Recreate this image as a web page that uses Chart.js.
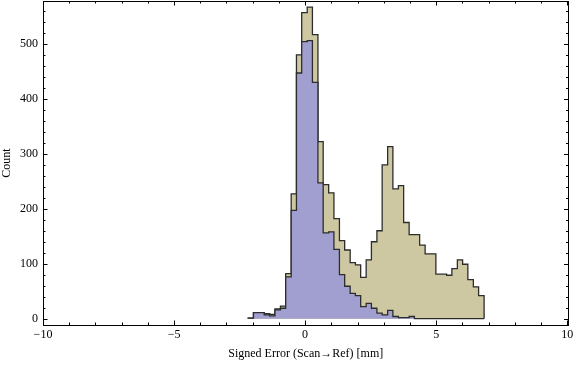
<!DOCTYPE html>
<html>
<head>
<meta charset="utf-8">
<script src="https://cdn.jsdelivr.net/npm/chart.js@4/dist/chart.umd.min.js"></script>
<style>
  html, body { margin: 0; padding: 0; background: #fff; }
  #chart { display: block; }
</style>
</head>
<body>
<canvas id="chart" width="576" height="366"></canvas>
<script>
// Bin edges of the histogram (mm)
const binEdges = [-2.17, -1.97, -1.76, -1.56, -1.35, -1.15, -0.94, -0.74, -0.53, -0.33,
                  -0.13, 0.08, 0.28, 0.49, 0.69, 0.90, 1.10, 1.31, 1.51, 1.72,
                  1.92, 2.12, 2.33, 2.53, 2.74, 2.94, 3.15, 3.35, 3.56, 3.76,
                  3.97, 4.17, 4.37, 4.58, 4.78, 4.99, 5.19, 5.40, 5.60, 5.81,
                  6.01, 6.21, 6.42, 6.62, 6.83];

// Counts per bin, front (blue) series
const countsA = [1, 11, 11, 7, 5, 16, 19, 76, 197, 447,
                 504, 506, 430, 247, 156, 158, 126, 80, 59, 46,
                 42, 22, 28, 19, 10, 7, 15, 4, 2, 2,
                 4, 0, 0, 0, 0, 0, 0, 0, 0, 0,
                 0, 0, 0, 0];

// Counts per bin, back (khaki) series
const countsB = [1, 11, 11, 9, 8, 18, 23, 82, 227, 480,
                 557, 567, 517, 322, 244, 229, 182, 142, 125, 102,
                 98, 75, 107, 140, 160, 280, 313, 236, 242, 175,
                 153, 153, 134, 118, 118, 81, 81, 79, 91, 107,
                 99, 71, 58, 42];

const xTickValues = [-10, -5, 0, 5, 10];
const xMinorValues = [-9, -8, -7, -6, -4, -3, -2, -1, 1, 2, 3, 4, 6, 7, 8, 9];
const yTickValues = [0, 100, 200, 300, 400, 500];
const yMinorValues = [20, 40, 60, 80, 120, 140, 160, 180, 220, 240, 260, 280,
                      320, 340, 360, 380, 420, 440, 460, 480, 520, 540, 560];

const FONT = "'Liberation Serif', 'Times New Roman', 'DejaVu Serif', serif";

// step outline: start at baseline, one point per left edge, close at the last edge
function stepPoints(counts) {
    const pts = [{ x: binEdges[0], y: 0 }];
    counts.forEach((c, i) => pts.push({ x: binEdges[i], y: c }));
    pts.push({ x: binEdges[counts.length], y: 0 });
    return pts;
}

// Mathematica-like frame with inward ticks on all four sides
const framePlugin = {
    id: 'frameTicks',
    afterDraw(chart) {
        const { ctx, chartArea: a, scales: { x, y } } = chart;
        ctx.save();
        ctx.strokeStyle = '#000';
        ctx.lineWidth = 1;
        ctx.strokeRect(Math.round(a.left) + 0.5, Math.round(a.top) + 0.5,
                       Math.round(a.right - a.left) - 1, Math.round(a.bottom - a.top));
        const vTick = (v, len) => {
            const px = Math.round(x.getPixelForValue(v)) + 0.5;
            ctx.moveTo(px, a.bottom); ctx.lineTo(px, a.bottom - len);
            ctx.moveTo(px, a.top); ctx.lineTo(px, a.top + len);
        };
        const hTick = (v, len) => {
            const py = Math.round(y.getPixelForValue(v)) + 0.5;
            ctx.moveTo(a.left, py); ctx.lineTo(a.left + len, py);
            ctx.moveTo(a.right, py); ctx.lineTo(a.right - len, py);
        };
        ctx.beginPath();
        xTickValues.forEach(v => vTick(v, 4.5));
        xMinorValues.forEach(v => vTick(v, 2.5));
        yTickValues.forEach(v => hTick(v, 4.5));
        yMinorValues.forEach(v => hTick(v, 2.5));
        ctx.stroke();
        ctx.restore();
    }
};

const fmt = v => (v < 0 ? '\u2212' + Math.abs(v) : String(v));

new Chart(document.getElementById('chart').getContext('2d'), {
    type: 'line',
    data: {
        datasets: [
            {
                data: stepPoints(countsA),
                stepped: true,
                fill: 'origin',
                backgroundColor: 'rgb(161, 159, 207)',
                borderColor: 'rgb(45, 45, 45)',
                borderWidth: 1.3,
                pointRadius: 0,
                tension: 0
            },
            {
                data: stepPoints(countsB),
                stepped: true,
                fill: 'origin',
                backgroundColor: 'rgb(205, 200, 161)',
                borderColor: 'rgb(45, 45, 45)',
                borderWidth: 1.3,
                pointRadius: 0,
                tension: 0
            }
        ]
    },
    options: {
        responsive: false,
        animation: false,
        events: [],
        layout: { padding: { top: 1, right: 7.5, bottom: 0, left: 0 } },
        plugins: {
            legend: { display: false },
            tooltip: { enabled: false }
        },
        scales: {
            x: {
                type: 'linear',
                min: -10,
                max: 10.05,
                grid: { display: false, drawTicks: false },
                border: { display: false },
                afterFit: s => { s.height = 41; s.paddingLeft = 0; s.paddingRight = 0; },
                afterBuildTicks: s => { s.ticks = xTickValues.map(v => ({ value: v })); },
                ticks: {
                    color: '#000',
                    padding: 3,
                    maxRotation: 0,
                    font: { family: FONT, size: 12 },
                    callback: v => fmt(v)
                },
                title: {
                    display: true,
                    text: 'Signed Error (Scan\u2192Ref) [mm]',
                    color: '#000',
                    font: { family: FONT, size: 12 },
                    padding: { top: 0, bottom: 4.5 }
                }
            },
            y: {
                type: 'linear',
                min: -11.5,
                max: 578,
                grid: { display: false, drawTicks: false },
                border: { display: false },
                afterFit: s => { s.width = 43; s.paddingTop = 0; s.paddingBottom = 0; },
                afterBuildTicks: s => { s.ticks = yTickValues.map(v => ({ value: v })); },
                ticks: {
                    color: '#000',
                    padding: 5,
                    font: { family: FONT, size: 12 },
                    callback: v => fmt(v)
                },
                title: {
                    display: true,
                    text: 'Count',
                    color: '#000',
                    font: { family: FONT, size: 12 },
                    padding: 0
                }
            }
        }
    },
    plugins: [framePlugin]
});
</script>
</body>
</html>
